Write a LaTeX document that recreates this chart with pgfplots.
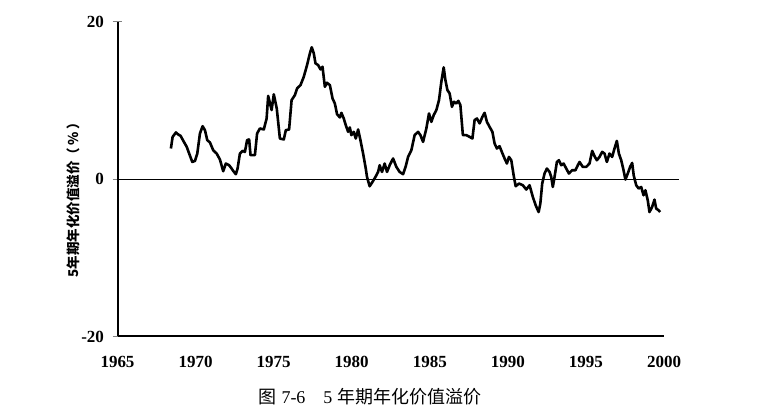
\documentclass[border=0pt]{standalone}
\usepackage{pgfplots}
\pgfplotsset{compat=1.18}
\usepackage{fontspec}
\setmainfont{Liberation Serif}
\newfontfamily\cjk{Noto Sans CJK SC}
\begin{document}
\begin{tikzpicture}
\path[use as bounding box] (0,0) rectangle (761pt,417pt);
\begin{axis}[
  at={(117.5pt,80.5pt)}, anchor=south west,
  width=546.5pt, height=314.5pt, scale only axis,
  xmin=1965, xmax=2000, ymin=-20, ymax=20,
  axis x line*=bottom, axis y line*=left,
  axis line style={-, line width=2pt},
  xtick={1965,1970,1975,1980,1985,1990,1995,2000},
  xticklabels={1965,1970,1975,1980,1985,1990,1995,2000},
  ytick={-20,0,20},
  yticklabels={-20,0,20},
  xtick style={draw=none},
  ytick style={line width=1pt},
  tick align=center, major tick length=10pt,
  ticklabel style={font=\bfseries\fontsize{17}{17}\selectfont},
  xticklabel style={yshift=-11pt},
  yticklabel style={xshift=-5pt},
  ylabel={\cjk\bfseries 5年期年化价值溢价（\,\%\,）},
  ylabel style={at={(axis description cs:-0.08,0.444)}, anchor=center, font=\fontsize{13.5}{14}\selectfont},
  clip=false,
]
\addplot[black, line width=0.8pt] coordinates {(1965,0) (2000.96,0)};
\addplot[black, line width=2.6pt, line join=round] coordinates {
(1968.42,3.91)(1968.53,5.39)(1968.74,5.95)(1968.89,5.69)(1969.04,5.52)(1969.21,4.90)
(1969.43,4.14)(1969.59,3.27)(1969.79,2.20)(1969.96,2.33)(1970.11,3.27)(1970.28,5.82)
(1970.45,6.75)(1970.60,6.24)(1970.75,4.97)(1970.92,4.68)(1971.13,3.69)(1971.35,3.27)
(1971.56,2.51)(1971.77,1.02)(1971.94,2.00)(1972.15,1.78)(1972.31,1.36)(1972.41,1.06)
(1972.58,0.64)(1972.69,1.36)(1972.84,3.27)(1973.01,3.61)(1973.16,3.48)(1973.30,4.97)
(1973.43,5.06)(1973.52,3.06)(1973.80,3.06)(1973.94,5.82)(1974.12,6.46)(1974.37,6.33)
(1974.55,7.73)(1974.65,10.6)(1974.87,8.8)(1975.01,10.8)(1975.20,9.0)(1975.40,5.18)
(1975.65,5.06)(1975.78,6.24)(1975.99,6.33)(1976.15,10.06)(1976.36,10.70)(1976.50,11.55)
(1976.72,11.97)(1976.93,13.03)(1977.14,14.52)(1977.32,16.01)(1977.44,16.78)(1977.57,16.01)
(1977.68,14.74)(1977.85,14.52)(1978.00,13.97)(1978.13,14.31)(1978.28,11.76)(1978.42,12.27)
(1978.60,11.97)(1978.77,10.28)(1978.92,9.64)(1979.06,8.28)(1979.24,7.86)(1979.34,8.45)
(1979.49,7.73)(1979.62,6.88)(1979.77,6.03)(1979.88,6.59)(1979.98,5.61)(1980.13,6.03)
(1980.26,5.18)(1980.41,6.33)(1980.56,4.97)(1980.73,3.27)(1980.90,1.36)(1980.98,0.29)
(1981.15,-0.89)(1981.33,-0.34)(1981.52,0.29)(1981.69,0.93)(1981.79,1.78)(1981.94,0.93)
(1982.11,2.00)(1982.26,0.93)(1982.43,1.78)(1982.65,2.64)(1982.86,1.57)(1983.07,0.93)
(1983.29,0.64)(1983.46,1.66)(1983.61,2.84)(1983.82,3.69)(1984.03,5.61)(1984.25,6.03)
(1984.40,5.61)(1984.57,4.75)(1984.78,6.46)(1984.95,8.37)(1985.10,7.30)(1985.25,8.15)
(1985.42,8.79)(1985.59,10.06)(1985.74,12.39)(1985.89,14.23)(1986.00,12.61)(1986.13,11.34)
(1986.27,10.92)(1986.42,9.21)(1986.55,9.85)(1986.70,9.64)(1986.83,9.97)(1986.96,9.43)
(1987.12,5.61)(1987.34,5.61)(1987.55,5.39)(1987.73,5.18)(1987.87,7.52)(1988.02,7.73)
(1988.19,7.10)(1988.37,7.94)(1988.51,8.45)(1988.66,7.30)(1988.83,6.66)(1989.01,6.03)
(1989.15,4.55)(1989.30,3.91)(1989.47,4.20)(1989.64,3.35)(1989.79,2.64)(1989.94,2.00)
(1990.07,2.84)(1990.22,2.42)(1990.37,0.51)(1990.50,-0.89)(1990.71,-0.55)(1990.96,-0.76)
(1991.18,-1.31)(1991.39,-0.76)(1991.60,-2.25)(1991.78,-3.31)(1991.97,-4.17)(1992.08,-3.10)
(1992.20,-0.55)(1992.35,0.73)(1992.50,1.36)(1992.67,0.93)(1992.78,0.29)(1992.88,-0.98)
(1992.99,0.29)(1993.14,2.20)(1993.27,2.42)(1993.42,1.78)(1993.57,2.00)(1993.74,1.36)
(1993.91,0.73)(1994.12,1.15)(1994.33,1.15)(1994.48,1.78)(1994.59,2.20)(1994.80,1.57)
(1995.02,1.57)(1995.23,2.00)(1995.40,3.61)(1995.55,2.93)(1995.70,2.42)(1995.87,2.84)
(1996.04,3.48)(1996.19,3.27)(1996.34,2.20)(1996.51,3.27)(1996.68,2.84)(1996.83,3.91)
(1996.98,4.88)(1997.11,3.27)(1997.26,2.42)(1997.41,1.15)(1997.53,-0.04)(1997.68,0.73)
(1997.83,1.57)(1997.96,2.08)(1998.06,0.51)(1998.22,-0.76)(1998.38,-1.18)(1998.54,-0.98)
(1998.69,-2.04)(1998.81,-1.40)(1998.96,-2.68)(1999.07,-4.17)(1999.24,-3.53)(1999.39,-2.59)
(1999.50,-3.73)(1999.66,-3.95)(1999.75,-4.17)
};
\end{axis}
\node[font=\fontsize{18}{18}\selectfont, anchor=center] at (370pt,20pt) {{\cjk 图}\;7-6\quad 5\;{\cjk 年期年化价值溢价}};
\end{tikzpicture}
\end{document}
